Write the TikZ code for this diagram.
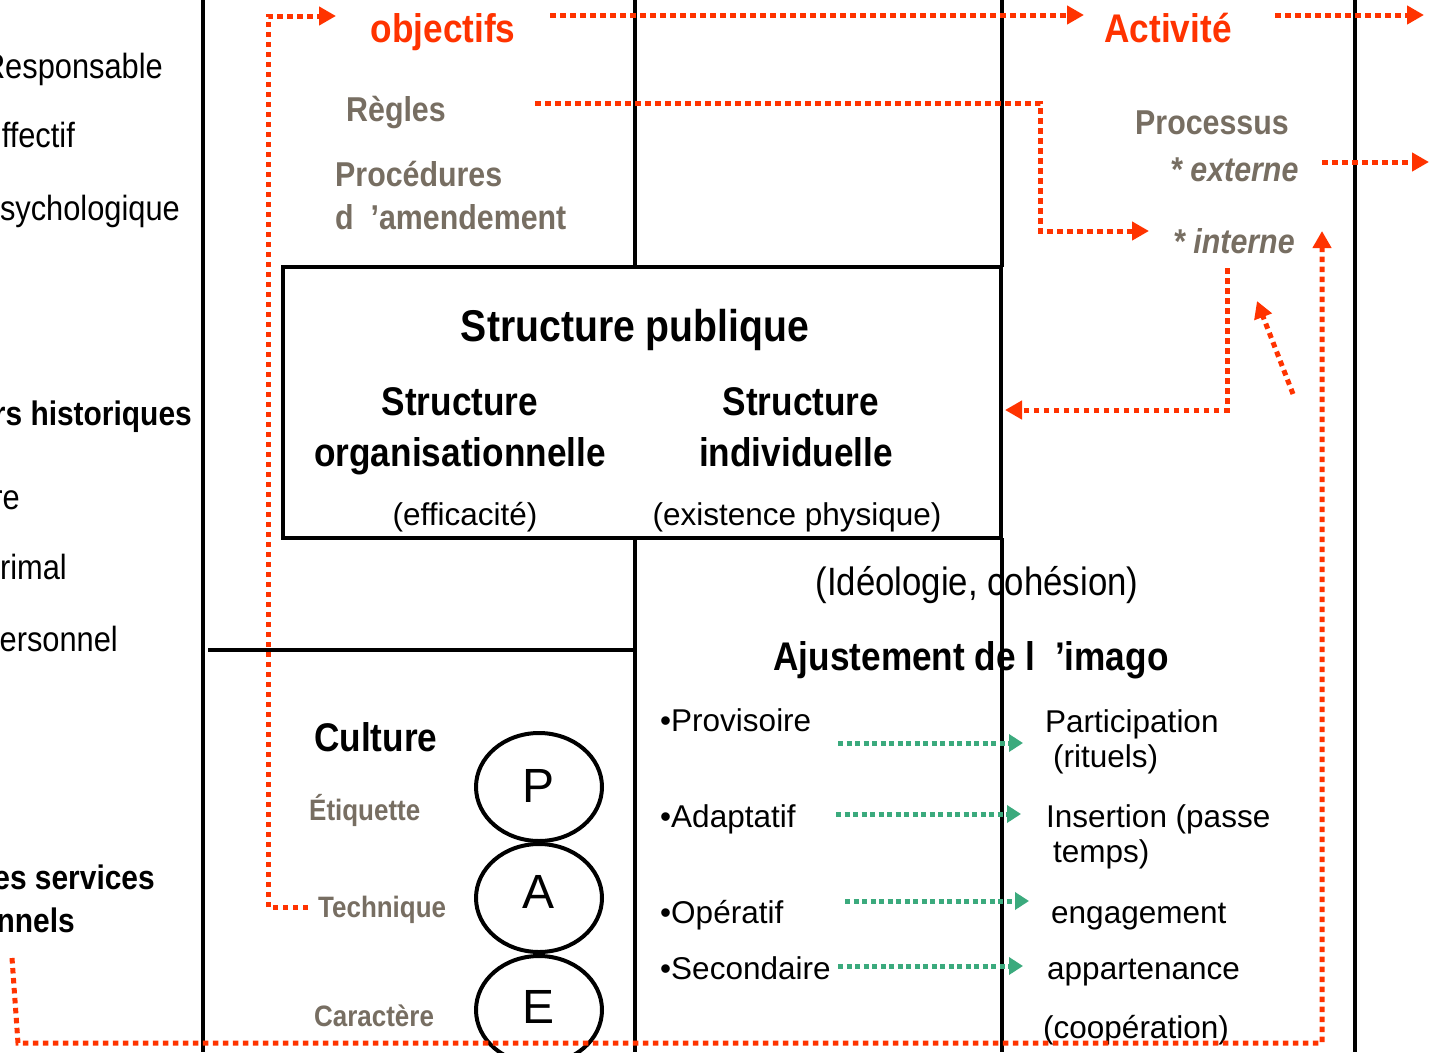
\documentclass[tikz,border=0pt]{standalone}
\usepackage{fontspec}
\setmainfont{Liberation Sans}
\newfontfamily\nr[FakeStretch=0.88]{Liberation Sans}
\usetikzlibrary{arrows.meta,shapes.geometric}
\definecolor{rd}{HTML}{FF3300}
\definecolor{gy}{HTML}{776E62}
\definecolor{gn}{HTML}{3BAA7D}
\tikzset{
  blk/.style={draw=black, line width=4pt},
  redd/.style={draw=rd, line width=5pt, dash pattern=on 5.5pt off 4.5pt},
  redarr/.style={redd, -{Triangle[length=17pt,width=18pt]}},
  grnarr/.style={draw=gn, line width=5pt, dash pattern=on 5pt off 3.5pt, -{Triangle[length=14pt,width=17pt]}},
  hb/.style={font=\nr\bfseries\fontsize{40}{48}\selectfont, inner sep=0pt},
  hr/.style={font=\nr\bfseries\fontsize{40}{48}\selectfont, text=rd, inner sep=0pt},
  gb/.style={font=\nr\bfseries\fontsize{34.5}{40}\selectfont, text=gy, inner sep=0pt},
  gbi/.style={font=\nr\bfseries\itshape\fontsize{34.5}{40}\selectfont, text=gy, inner sep=0pt},
  gs/.style={font=\nr\bfseries\fontsize{29.5}{36}\selectfont, text=gy, inner sep=0pt},
  lr/.style={font=\nr\fontsize{35}{42}\selectfont, inner sep=0pt},
  lb/.style={font=\nr\bfseries\fontsize{34}{42}\selectfont, inner sep=0pt},
  rr/.style={font=\fontsize{31.5}{38}\selectfont, inner sep=0pt},
  pae/.style={draw, ellipse, line width=4pt, minimum width=126pt, minimum height=108pt, inner sep=0pt, font=\fontsize{48}{48}\selectfont}
}
\begin{document}
\begin{tikzpicture}[x=1pt,y=-1pt]
\useasboundingbox (0,0) rectangle (1432,1052);
\fill[white] (0,0) rectangle (1432,1052);

% ---- left column (clipped at the page edge, as in the reference)
\node[lr, anchor=base east] (l1) at (163,78) {Responsable};
\node[lr, anchor=base east] (l2) at (75,147) {ffectif};
\node[lr, anchor=base east] (l3) at (180,220) {psychologique};
\node[lb, anchor=base east] (l4) at (192,425) {rs historiques};
\node[lr, anchor=base east] (l5) at (20,509) {re};
\node[lr, anchor=base east] (l6) at (67,579) {rimal};
\node[lr, anchor=base east] (l7) at (118,651) {ersonnel};
\node[lb, anchor=base east] (l8) at (155,889) {es services};
\node[lb, anchor=base east] (l9) at (75,932) {nnels};

% ---- black frame lines
\coordinate (v1t) at (203,0);   \coordinate (v1b) at (203,1052);
\coordinate (v2t) at (635,0);   \coordinate (v2m) at (635,267);
\coordinate (v2n) at (635,538); \coordinate (v2b) at (635,1052);
\coordinate (v3t) at (1002,0);  \coordinate (v3m) at (1002,267);
\coordinate (v3n) at (1002,538);\coordinate (v3b) at (1002,1052);
\coordinate (v4t) at (1355,0);  \coordinate (v4b) at (1355,1052);
\coordinate (h1a) at (208,650); \coordinate (h1b) at (633,650);
\draw[blk] (v1t) -- (v1b);
\draw[blk] (v2t) -- (v2m);
\draw[blk] (v2n) -- (v2b);
\draw[blk] (v3t) -- (v3m);
\draw[blk] (v3n) -- (v3b);
\draw[blk] (v4t) -- (v4b);
\draw[blk] (h1a) -- (h1b);
\node[blk, minimum width=718pt, minimum height=271pt, inner sep=0pt] (box) at (642,402.5) {};

% ---- top texts
\node[hr, anchor=base] (obj) at (443,42) {objectifs};
\node[hr, anchor=base] (act) at (1168,42) {Activité};
\node[gb, anchor=base west] (reg) at (346,121) {Règles};
\node[gb, anchor=base west] (proc) at (335,186) {Procédures};
\node[gb, anchor=base west] (amd) at (335,229) {d\ \ ’amendement};
\node[gb, anchor=base west] (pro) at (1135,134) {Processus};
\node[gbi, anchor=base west] (ext) at (1170,181) {* externe};
\node[gbi, anchor=base west] (int) at (1173,253) {* interne};

% ---- box texts
\node[font=\nr\bfseries\fontsize{44.5}{50}\selectfont, inner sep=0pt, anchor=base] (sp) at (635,341) {Structure publique};
\node[hb, anchor=base] (so1) at (460,415) {Structure};
\node[hb, anchor=base] (so2) at (460,466) {organisationnelle};
\node[hb, anchor=base] (si1) at (801,415) {Structure};
\node[hb, anchor=base] (si2) at (796,466) {individuelle};
\node[rr, anchor=base] (eff) at (465,525) {(efficacité)};
\node[rr, anchor=base] (exi) at (797,525) {(existence physique)};

% ---- lower right
\node[font=\nr\fontsize{39.5}{46}\selectfont, inner sep=0pt, anchor=base] (ideo) at (977,595) {(Idéologie, cohésion)};
\node[hb, anchor=base] (aju) at (971,670) {Ajustement de l\ \ ’imago};
\node[rr, anchor=base west] (prov) at (660,731) {•Provisoire};
\node[rr, anchor=base west] (adap) at (660,827) {•Adaptatif};
\node[rr, anchor=base west] (oper) at (660,923) {•Opératif};
\node[rr, anchor=base west] (seco) at (660,979) {•Secondaire};
\node[rr, anchor=base west] (part) at (1045,732) {Participation};
\node[rr, anchor=base west] (ritu) at (1053,767) {(rituels)};
\node[rr, anchor=base west] (inse) at (1046,827) {Insertion (passe};
\node[rr, anchor=base west] (temp) at (1053,862) {temps)};
\node[rr, anchor=base west] (enga) at (1051,923) {engagement};
\node[rr, anchor=base west] (appa) at (1047,979) {appartenance};
\node[rr, anchor=base west] (coop) at (1043,1038) {(coopération)};

% ---- culture
\node[hb, anchor=base west] (cult) at (314,751) {Culture};
\node[gs, anchor=base west] (etiq) at (309,820) {Étiquette};
\node[gs, anchor=base west] (tech) at (318,917) {Technique};
\node[gs, anchor=base west] (cara) at (314,1026) {Caractère};
\node[pae] (P) at (539,787) {\raisebox{2pt}{P}};
\node[pae] (A) at (539,898) {\raisebox{12pt}{A}};
\node[pae] (E) at (539,1010) {\raisebox{7pt}{E}};

% ---- red dotted connectors
\coordinate (t0) at (308,907);
\coordinate (t1) at (268,907);
\coordinate (t2) at (268,16);
\coordinate (o0) at (336,16);
\draw[redarr] (t0) -- (t1) -- (t2) -- (o0);

\coordinate (a0) at (550,15);
\coordinate (a1) at (1084,15);
\draw[redarr] (a0) -- (a1);
\coordinate (b0) at (1275,15);
\coordinate (b1) at (1424,15);
\draw[redarr] (b0) -- (b1);

\coordinate (r0) at (535,103);
\coordinate (r1) at (1040,103);
\coordinate (r2) at (1040,231);
\coordinate (r3) at (1149,231);
\draw[redarr] (r0) -- (r1) -- (r2) -- (r3);

\coordinate (e0) at (1322,162);
\coordinate (e1) at (1429,162);
\draw[redarr] (e0) -- (e1);

\coordinate (i0) at (1227,268);
\coordinate (i1) at (1227,410);
\coordinate (i2) at (1005,410);
\draw[redarr] (i0) -- (i1) -- (i2);

\coordinate (d0) at (1293,394);
\coordinate (d1) at (1257,301);
\draw[redarr] (d0) -- (d1);

\coordinate (f0) at (12,958);
\coordinate (f1) at (18,1043);
\coordinate (f2) at (1322,1043);
\coordinate (f3) at (1322,231);
\draw[redarr] (f0) -- (f1) -- (f2) -- (f3);

% ---- green connectors
\coordinate (g1a) at (838,743);  \coordinate (g1b) at (1023,743);
\coordinate (g2a) at (836,814);  \coordinate (g2b) at (1021,814);
\coordinate (g3a) at (845,901);  \coordinate (g3b) at (1029,901);
\coordinate (g4a) at (838,966);  \coordinate (g4b) at (1023,966);
\draw[grnarr] (g1a) -- (g1b);
\draw[grnarr] (g2a) -- (g2b);
\draw[grnarr] (g3a) -- (g3b);
\draw[grnarr] (g4a) -- (g4b);
\end{tikzpicture}
\end{document}
